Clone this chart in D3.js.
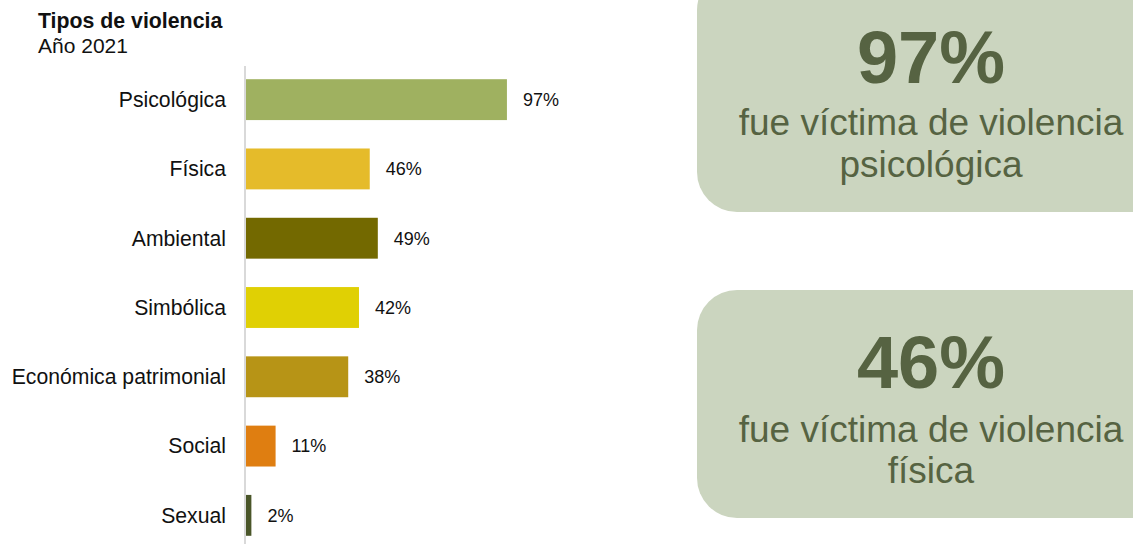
<!DOCTYPE html>
<html>
<head>
<meta charset="utf-8">
<script src="https://cdn.jsdelivr.net/npm/d3@7"></script>
<style>
  body { margin: 0; background: #ffffff; }
  svg text { font-family: "Liberation Sans", Arial, sans-serif; }
</style>
</head>
<body>
<div id="chart"></div>
<script>
// datos
var categorias = ["Psicológica", "Física", "Ambiental", "Simbólica", "Económica patrimonial", "Social", "Sexual"];
var porcentajes = [97, 46, 49, 42, 38, 11, 2];
var colores = ["#9fb160", "#e5bb2a", "#736900", "#e0d004", "#b79416", "#df7e11", "#4a5629"];
var destacados = [
  { valor: "97%", linea1: "fue víctima de violencia", linea2: "psicológica" },
  { valor: "46%", linea1: "fue víctima de violencia", linea2: "física" }
];

var width = 1133, height = 544;
var axisX = 245;

var svg = d3.select("#chart").append("svg")
  .attr("width", width)
  .attr("height", height);

// titulo
svg.append("text")
  .attr("x", 38).attr("y", 28)
  .style("font-size", "21.3px").style("font-weight", "bold").style("fill", "#111")
  .text("Tipos de violencia");
svg.append("text")
  .attr("x", 38).attr("y", 53)
  .style("font-size", "21px").style("fill", "#111")
  .text("Año 2021");

var x = d3.scaleLinear().domain([0, 100]).range([axisX + 1, axisX + 1 + 269]);
var y = d3.scaleBand().domain(categorias).range([65, 550]).paddingInner(0.41).paddingOuter(0.205);

var rows = categorias.map(function(c, i) { return { cat: c, val: porcentajes[i], color: colores[i] }; });

svg.selectAll("rect.bar")
  .data(rows).enter()
  .append("rect")
  .attr("class", "bar")
  .attr("x", x(0))
  .attr("y", function(d) { return y(d.cat); })
  .attr("width", function(d) { return x(d.val) - x(0); })
  .attr("height", y.bandwidth())
  .style("fill", function(d) { return d.color; });

// eje vertical
svg.append("line")
  .attr("x1", axisX).attr("x2", axisX)
  .attr("y1", 66).attr("y2", height)
  .style("stroke", "#d9d9d9").style("stroke-width", 2);

svg.selectAll("text.cat")
  .data(rows).enter()
  .append("text")
  .attr("class", "cat")
  .attr("x", axisX - 19)
  .attr("y", function(d) { return y(d.cat) + y.bandwidth() / 2; })
  .attr("dy", "0.35em")
  .style("text-anchor", "end")
  .style("font-size", "21.2px").style("fill", "#111")
  .text(function(d) { return d.cat; });

svg.selectAll("text.val")
  .data(rows).enter()
  .append("text")
  .attr("class", "val")
  .attr("x", function(d) { return x(d.val) + 16; })
  .attr("y", function(d) { return y(d.cat) + y.bandwidth() / 2; })
  .attr("dy", "0.35em")
  .style("font-size", "18px").style("fill", "#111")
  .text(function(d) { return d.val + "%"; });

// cuadros destacados
var boxes = [
  { top: -30, bottom: 212, base: [83, 135, 177] },
  { top: 290, bottom: 518, base: [388, 442, 483] }
];
var cx = 931;
boxes.forEach(function(b, i) {
  var d = destacados[i];
  svg.append("rect")
    .attr("x", 697).attr("y", b.top)
    .attr("width", 500).attr("height", b.bottom - b.top)
    .attr("rx", 40).attr("ry", 40)
    .style("fill", "#cbd5bf");
  svg.append("text")
    .attr("x", cx).attr("y", b.base[0])
    .style("text-anchor", "middle")
    .style("font-size", "74px").style("font-weight", "bold").style("fill", "#566342")
    .text(d.valor);
  svg.append("text")
    .attr("x", cx).attr("y", b.base[1])
    .style("text-anchor", "middle")
    .style("font-size", "37px").style("fill", "#566342")
    .text(d.linea1);
  svg.append("text")
    .attr("x", cx).attr("y", b.base[2])
    .style("text-anchor", "middle")
    .style("font-size", "37px").style("fill", "#566342")
    .text(d.linea2);
});
</script>
</body>
</html>
